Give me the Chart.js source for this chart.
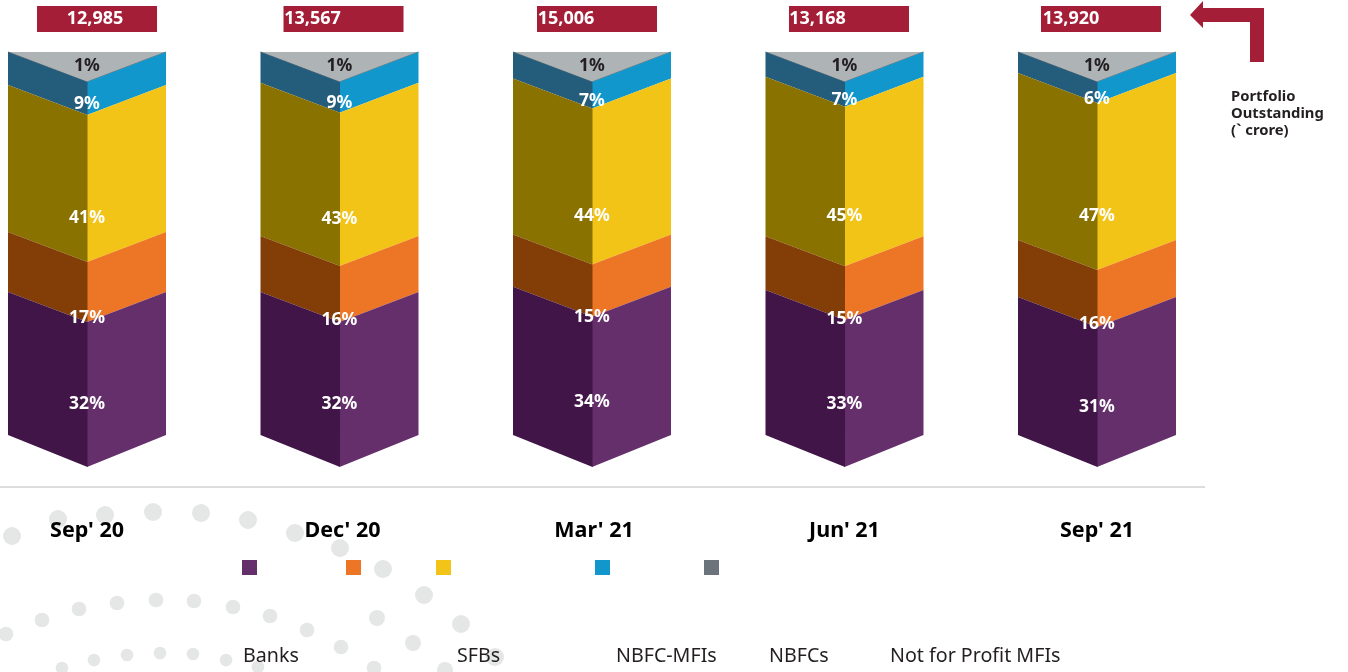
<!DOCTYPE html>
<html>
<head>
<meta charset="utf-8">
<title>Portfolio Outstanding</title>
<script src="https://cdn.jsdelivr.net/npm/chart.js@4/dist/chart.umd.js"></script>
<style>
    html, body { margin: 0; padding: 0; background: #fff; overflow: hidden; }
    #wrap { position: relative; width: 1348px; height: 672px; }
    #dots { position: absolute; left: 0; top: 0; }
    #dots circle { fill: #e5e6e6; }
    #stack { position: absolute; left: 0; top: 0; }
</style>
</head>
<body>
<div id="wrap">
    <svg id="dots" width="1348" height="672">
        <g id="dotRows"></g>
        <polygon points="1190,15 1203,1 1203,8 1264,8 1264,62 1250,62 1250,22 1203,22 1203,28" fill="#a51e37"></polygon>
    </svg>
    <canvas id="stack" width="1348" height="672"></canvas>
</div>
<script>
// Chart data
const quarters = ["Sep' 20", "Dec' 20", "Mar' 21", "Jun' 21", "Sep' 21"];
const totals = ["12,985", "13,567", "15,006", "13,168", "13,920"];
const seriesNames = ["Banks", "SFBs", "NBFC-MFIs", "NBFCs", "Not for Profit MFIs"];
const banks = [32.1, 32.1, 33.5, 32.6, 30.7];
const sfbs = [16.7, 15.6, 14.6, 15.0, 15.9];
const nbfcMfis = [41.0, 42.7, 43.5, 44.5, 46.5];
const nbfcs = [9.2, 8.6, 7.4, 6.9, 5.9];
const notForProfit = [1, 1, 1, 1, 1];

// Styles and layout
const font = '"Noto Sans", "Open Sans", sans-serif';
const frontColors = ["#652f6b", "#ec7625", "#f2c417", "#1297cc", "#aeb3b6"];
const sideColors = ["#411548", "#833e08", "#8a7200", "#245c7c", "#aeb3b6"];
const swatchColors = ["#652f6b", "#ec7625", "#f2c417", "#1297cc", "#6b747b"];
const labelShift = [25, 26, 30, 6, -14];
const boxShift = [10, 4, 5, 4.5, 4];
const totalShift = [8, -27, -26, -27, -26];
const tickNudge = [0, 3, 2, 0, 0];
const swatchX = [242, 346, 436, 595, 704];
const legendX = [243, 457, 616, 769, 890];
const slant = 30;
const plinth = 28;

// Background dots (decoration only)
const dotRows = [
    [9, [[12,536],[58,519],[105,515],[153,512],[201,513],[248,520],[295,533],[340,548],[383,569],[424,595],[461,624],[495,657]]],
    [7.3, [[6,634],[42,620],[79,609],[117,603],[156,600],[194,601],[233,607],[270,616],[307,630],[341,647],[374,668]]],
    [6.3, [[62,668],[94,660],[127,655],[160,653],[193,654],[226,660],[258,667]]],
    [8, [[377,618],[413,643],[445,670]]]
];
document.getElementById("dotRows").innerHTML = dotRows.map(([r, pts]) =>
    pts.map(p => `<circle cx="${p[0]}" cy="${p[1]}" r="${r}"></circle>`).join("")
).join("");

function fillPoly(ctx, pts, color) {
    ctx.fillStyle = color;
    ctx.beginPath();
    pts.forEach((p, i) => i ? ctx.lineTo(p[0], p[1]) : ctx.moveTo(p[0], p[1]));
    ctx.closePath();
    ctx.fill();
}

// Stacked bar whose segments are drawn as two slanted faces
class PrismController extends Chart.BarController {
    draw() {
        const ctx = this.chart.ctx;
        const idx = this.index;
        this._cachedMeta.data.forEach(bar => {
            const half = bar.width / 2;
            const l = bar.x - half;
            const r = bar.x + half;
            if (idx === 4) {
                // top cap, sits on the top edge of the stack below
                const b = bar.base;
                fillPoly(ctx, [[l, b], [r, b], [bar.x, b + slant]], frontColors[idx]);
                ctx.strokeStyle = "#6f7578";
                ctx.lineWidth = 1;
                ctx.beginPath();
                ctx.moveTo(l, b);
                ctx.lineTo(bar.x, b + slant);
                ctx.lineTo(r, b);
                ctx.stroke();
                return;
            }
            const top = bar.y;
            const edge = idx === 0 ? bar.base + plinth : bar.base;
            const mid = idx === 0 ? bar.base + 2 * slant : bar.base + slant;
            fillPoly(ctx, [[r, top], [bar.x, top + slant], [bar.x, mid], [r, edge]], frontColors[idx]);
            // side face overlaps the centre by a hair so no seam shows
            fillPoly(ctx, [[l, top], [bar.x + 0.5, top + slant], [bar.x + 0.5, mid], [l, edge]], sideColors[idx]);
        });
    }
}
PrismController.id = "prism";
PrismController.defaults = Chart.BarController.defaults;
PrismController.overrides = Chart.BarController.overrides;
Chart.register(PrismController);

const stackText = {
    id: "stackText",
    afterDatasetsDraw(chart) {
        const ctx = chart.ctx;
        const x = chart.scales.x;
        const axisY = chart.scales.y.bottom;
        ctx.save();

        // axis rule stops short of the right edge
        ctx.strokeStyle = "#dcdcdc";
        ctx.lineWidth = 2;
        ctx.beginPath();
        ctx.moveTo(0, axisY);
        ctx.lineTo(1205, axisY);
        ctx.stroke();

        ctx.textAlign = "center";
        ctx.textBaseline = "middle";

        // share labels
        ctx.font = `bold 17.5px ${font}`;
        chart.data.datasets.forEach((ds, i) => {
            chart.getDatasetMeta(i).data.forEach((bar, j) => {
                ctx.fillStyle = i === 4 ? "#231f20" : "#ffffff";
                const y = (bar.y + bar.base) / 2 + slant + labelShift[i];
                ctx.fillText(Math.round(ds.data[j].y) + "%", bar.x, y);
            });
        });

        // totals above each column
        totals.forEach((t, j) => {
            const cx = x.getPixelForValue(j);
            ctx.fillStyle = "#a51e37";
            ctx.fillRect(cx + boxShift[j] - 60, 6, 120, 26);
            ctx.fillStyle = "#ffffff";
            ctx.font = `bold 18px ${font}`;
            ctx.fillText(t, cx + totalShift[j], 19);
        });

        // legend, swatches and names sit on separate rows
        ctx.textAlign = "left";
        ctx.font = `19.65px ${font}`;
        seriesNames.forEach((name, i) => {
            ctx.fillStyle = swatchColors[i];
            ctx.fillRect(swatchX[i], 560, 15, 15);
            ctx.fillStyle = "#231f20";
            ctx.fillText(name, legendX[i], 656);
        });

        // note under the arrow
        ctx.font = `bold 14.8px ${font}`;
        ctx.fillStyle = "#231f20";
        ["Portfolio", "Outstanding", "(` crore)"].forEach((line, i) => {
            ctx.fillText(line, 1231, 97 + i * 17);
        });
        ctx.restore();
    }
};

const allSeries = [banks, sfbs, nbfcMfis, nbfcs, notForProfit];

new Chart(document.getElementById("stack").getContext("2d"), {
    type: "prism",
    data: {
        datasets: allSeries.map((values, i) => ({
            label: seriesNames[i],
            data: values.map((v, j) => ({ x: j, y: v })),
            backgroundColor: frontColors[i],
            barThickness: 158
        }))
    },
    options: {
        responsive: false,
        animation: false,
        devicePixelRatio: 1,
        layout: { padding: 0 },
        plugins: {
            legend: { display: false },
            tooltip: { enabled: false }
        },
        scales: {
            x: {
                type: "linear",
                stacked: true,
                offset: false,
                min: -0.3446,
                max: 4.9941,
                grid: { display: false },
                border: { display: false },
                afterBuildTicks: scale => {
                    scale.ticks = quarters.map((q, i) => ({ value: i + tickNudge[i] / 252.5 }));
                },
                afterFit: scale => { scale.height = 185; },
                ticks: {
                    autoSkip: false,
                    maxRotation: 0,
                    padding: 23,
                    color: "#000000",
                    font: { family: font, size: 21.5, weight: "bold" },
                    callback: v => quarters[Math.round(v)]
                }
            },
            y: {
                display: false,
                stacked: true,
                min: -22.31,
                max: 113.49
            }
        }
    },
    plugins: [stackText]
});
</script>
</body>
</html>
